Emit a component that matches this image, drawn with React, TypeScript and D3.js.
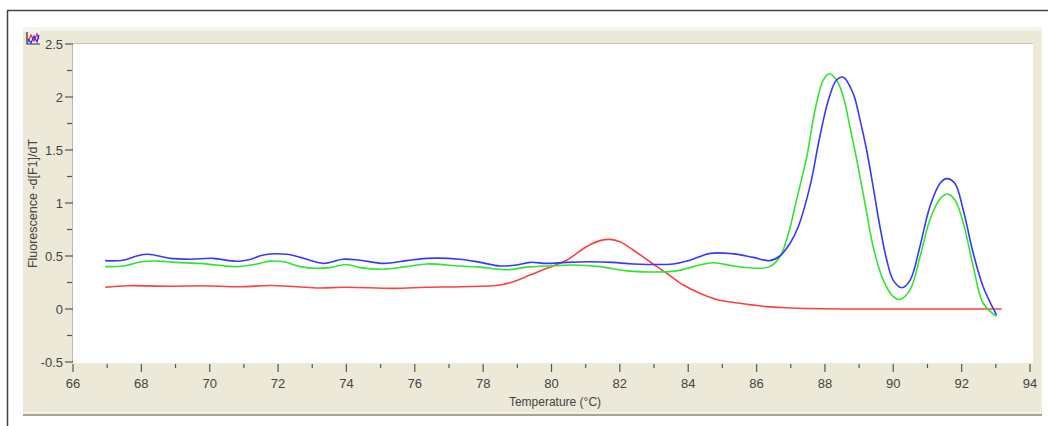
import React from 'react';
import * as d3 from 'd3';

// melt curve samples (temperature, -dF/dT)
const blueTemp = [66.94, 67.47, 67.86, 68.2, 68.84, 69.42, 70.1, 70.79, 71.2, 71.57, 72.25, 72.74, 73.32, 73.9, 74.4, 75.08, 75.76, 76.35, 77.32, 77.91, 78.49, 78.98, 79.37, 79.86, 80.44, 81.13, 81.8, 82.39, 83.56, 84.05, 84.64, 85.32, 85.9, 86.39, 86.68, 86.98, 87.22, 87.56, 87.85, 88.1, 88.34, 88.54, 88.83, 89.03, 89.22, 89.41, 89.61, 89.81, 90.0, 90.25, 90.49, 90.78, 91.07, 91.37, 91.56, 91.8, 92.05, 92.34, 92.63, 93.02];
const blueVal = [0.456, 0.46, 0.5, 0.516, 0.478, 0.47, 0.478, 0.45, 0.47, 0.51, 0.516, 0.478, 0.43, 0.47, 0.46, 0.43, 0.456, 0.478, 0.47, 0.44, 0.406, 0.415, 0.44, 0.43, 0.44, 0.446, 0.44, 0.425, 0.425, 0.46, 0.525, 0.52, 0.487, 0.456, 0.5, 0.62, 0.776, 1.154, 1.625, 1.97, 2.16, 2.186, 2.03, 1.78, 1.5, 1.154, 0.776, 0.46, 0.27, 0.2, 0.27, 0.59, 0.965, 1.186, 1.23, 1.186, 0.93, 0.525, 0.21, -0.056];

const greenTemp = [66.94, 67.47, 68.0, 68.5, 69.0, 69.7, 70.2, 70.8, 71.3, 71.77, 72.16, 72.65, 73.1, 73.5, 74.0, 74.4, 75.08, 75.76, 76.35, 77.32, 77.91, 78.69, 79.27, 79.86, 80.63, 81.42, 82.2, 83.66, 84.15, 84.73, 85.32, 86.1, 86.39, 86.68, 86.93, 87.17, 87.47, 87.71, 87.95, 88.13, 88.34, 88.54, 88.73, 88.93, 89.17, 89.41, 89.71, 90.0, 90.19, 90.49, 90.78, 91.07, 91.37, 91.58, 91.8, 92.05, 92.34, 92.63, 93.02];
const greenVal = [0.4, 0.405, 0.446, 0.452, 0.44, 0.43, 0.415, 0.4, 0.42, 0.452, 0.446, 0.4, 0.384, 0.39, 0.42, 0.39, 0.375, 0.4, 0.425, 0.405, 0.395, 0.37, 0.395, 0.405, 0.415, 0.4, 0.36, 0.36, 0.4, 0.437, 0.406, 0.384, 0.4, 0.49, 0.71, 1.03, 1.44, 1.877, 2.16, 2.22, 2.16, 2.0, 1.72, 1.41, 1.0, 0.59, 0.27, 0.116, 0.09, 0.18, 0.49, 0.84, 1.04, 1.085, 1.03, 0.81, 0.4, 0.054, -0.07];

const redTemp = [66.94, 67.6, 68.8, 69.8, 70.9, 71.77, 72.55, 73.2, 74.0, 75.37, 76.35, 77.4, 78.49, 78.88, 79.37, 79.86, 80.44, 81.03, 81.42, 81.71, 82.0, 82.39, 82.88, 83.37, 83.86, 84.34, 84.83, 85.51, 86.3, 86.86, 87.5, 88.5, 90.0, 93.17];
const redVal = [0.205, 0.22, 0.215, 0.22, 0.21, 0.222, 0.21, 0.198, 0.205, 0.195, 0.205, 0.21, 0.226, 0.258, 0.32, 0.384, 0.46, 0.59, 0.645, 0.657, 0.635, 0.557, 0.446, 0.337, 0.226, 0.148, 0.09, 0.054, 0.022, 0.012, 0.005, 0, 0, 0];

const xMajor = [66, 68, 70, 72, 74, 76, 78, 80, 82, 84, 86, 88, 90, 92, 94];
const xMinor = [67, 69, 71, 73, 75, 77, 79, 81, 83, 85, 87, 89, 91, 93];
const yMajor = [-0.5, 0, 0.5, 1, 1.5, 2, 2.5];
const yMinor = [-0.25, 0.25, 0.75, 1.25, 1.75, 2.25];

const series = [
  { name: 'red', temp: redTemp, val: redVal, color: '#ff4040' },
  { name: 'green', temp: greenTemp, val: greenVal, color: '#2fe52f' },
  { name: 'blue', temp: blueTemp, val: blueVal, color: '#3838ff' },
];

const W = 1048;
const H = 426;
const plot = { left: 73, top: 44, right: 1033, bottom: 363 };

export default function App() {
  const x = d3.scaleLinear().domain([66, 94]).range([73, 1030]);
  const y = d3.scaleLinear().domain([-0.5, 2.5]).range([362, 44]);

  const line = d3.line<[number, number]>()
    .x(d => x(d[0]))
    .y(d => y(d[1]))
    .curve(d3.curveCatmullRom.alpha(0.5));

  const font = '"Liberation Sans", Arial, sans-serif';
  const tickColor = '#555';
  const textColor = '#444';

  return (
    <svg width={W} height={H} style={{ position: 'absolute', left: 0, top: 0, display: 'block' }}>
      <rect x={0} y={0} width={W} height={H} fill="#fff" />
      {/* outer frame */}
      <line x1={7} y1={10.5} x2={W} y2={10.5} stroke="#444" strokeWidth={1.5} />
      <line x1={7.5} y1={10} x2={7.5} y2={H} stroke="#444" strokeWidth={1.5} />

      {/* grey panel */}
      <rect x={23} y={27} width={1019} height={388} fill="#ece9d8" />
      <rect x={23} y={27} width={1019} height={4} fill="#f5f3ea" />
      <line x1={23} y1={412.5} x2={1042} y2={412.5} stroke="#f7f6f0" strokeWidth={1} />
      <line x1={23} y1={415} x2={1042} y2={415} stroke="#a8a596" strokeWidth={2} />

      {/* plot area */}
      <rect x={plot.left} y={plot.top} width={plot.right - plot.left} height={plot.bottom - plot.top} fill="#fff" />
      <line x1={plot.left} y1={43.5} x2={plot.right} y2={43.5} stroke="#c9c6b6" strokeWidth={1} />
      <line x1={72.5} y1={plot.top} x2={72.5} y2={plot.bottom} stroke="#bdbaa9" strokeWidth={1} />

      {/* small chart icon */}
      <g transform="translate(26,31)">
        <rect x={0} y={0} width={14} height={14} fill="#f4f4f4" />
        <path d="M1,1 V13 H14" fill="none" stroke="#222" strokeWidth={1.2} />
        <path d="M2,11 L5,4 L8,10 L11,3 L13,8" fill="none" stroke="#ff2a2a" strokeWidth={1.3} />
        <path d="M2,8 L5,12 L8,5 L11,11 L13,4" fill="none" stroke="#2a2aff" strokeWidth={1.3} />
      </g>

      {/* curves */}
      {series.map(s => (
        <path
          key={s.name}
          d={line(s.temp.map((t, i) => [t, s.val[i]] as [number, number])) || ''}
          fill="none"
          stroke={s.color}
          strokeWidth={1.6}
          strokeLinejoin="round"
        />
      ))}

      {/* y axis ticks */}
      {yMajor.map(v => (
        <g key={'ym' + v}>
          <line x1={65} x2={73} y1={y(v)} y2={y(v)} stroke={tickColor} strokeWidth={1.2} />
          <text x={63} y={y(v)} dy="0.35em" textAnchor="end" fontFamily={font} fontSize={13} fill={textColor}>
            {v === -0.5 ? '-0.5' : String(v)}
          </text>
        </g>
      ))}
      {yMinor.map(v => (
        <line key={'yn' + v} x1={67} x2={72} y1={y(v)} y2={y(v)} stroke={tickColor} strokeWidth={1.2} />
      ))}

      {/* x axis ticks */}
      {xMajor.map(v => (
        <g key={'xm' + v}>
          <line x1={x(v)} x2={x(v)} y1={364} y2={372} stroke={tickColor} strokeWidth={1.2} />
          <text x={x(v)} y={388} textAnchor="middle" fontFamily={font} fontSize={13} fill={textColor}>
            {v}
          </text>
        </g>
      ))}
      {xMinor.map(v => (
        <line key={'xn' + v} x1={x(v)} x2={x(v)} y1={364} y2={368} stroke={tickColor} strokeWidth={1.2} />
      ))}

      {/* axis titles */}
      <text x={(plot.left + plot.right) / 2 + 2} y={406} textAnchor="middle" fontFamily={font} fontSize={12} fill={textColor}>
        Temperature (°C)
      </text>
      <text
        transform={`translate(37,${(plot.top + plot.bottom) / 2}) rotate(-90)`}
        textAnchor="middle"
        fontFamily={font}
        fontSize={12.5}
        fill={textColor}
      >
        Fluorescence -d[F1]/dT
      </text>
    </svg>
  );
}
